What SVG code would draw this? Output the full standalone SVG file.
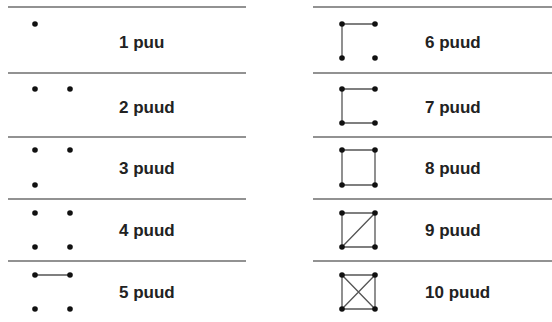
<svg xmlns="http://www.w3.org/2000/svg" width="552" height="322" viewBox="0 0 552 322">
<style>
.sep{stroke:#6e6e6e;stroke-width:1.5}
.e{stroke:#555;stroke-width:1.3;fill:none}
.d{fill:#111}
.t{font-family:"Liberation Sans",Arial,sans-serif;font-weight:bold;font-size:17px;fill:#222}
</style>
<rect width="552" height="322" fill="#fff"/>
<g id="separators">
<line class="sep" x1="8" y1="7" x2="246" y2="7"/>
<line class="sep" x1="8" y1="73" x2="246" y2="73"/>
<line class="sep" x1="8" y1="137" x2="246" y2="137"/>
<line class="sep" x1="8" y1="199" x2="246" y2="199"/>
<line class="sep" x1="8" y1="261" x2="246" y2="261"/>
<line class="sep" x1="313" y1="7" x2="552" y2="7"/>
<line class="sep" x1="313" y1="73" x2="552" y2="73"/>
<line class="sep" x1="313" y1="137" x2="552" y2="137"/>
<line class="sep" x1="313" y1="199" x2="552" y2="199"/>
<line class="sep" x1="313" y1="261" x2="552" y2="261"/>
</g>
<g id="connectors">
<line class="e" x1="35" y1="275" x2="70" y2="275"/>
<path class="e" d="M375,24 H342 V58"/>
<path class="e" d="M375,89 H342 V123 H375"/>
<path class="e" d="M342,150 H375 V185 H342 Z"/>
<path class="e" d="M342,213 H375 V247 H342 Z M342,247 L375,213"/>
<path class="e" d="M342,275 H375 V309 H342 Z M342,275 L375,309 M375,275 L342,309"/>
</g>
<g id="row1"><circle class="d" cx="35" cy="24" r="2.8"/><text class="t" x="119" y="48">1 puu</text></g>
<g id="row2"><circle class="d" cx="35" cy="89" r="2.8"/><circle class="d" cx="70" cy="89" r="2.8"/><text class="t" x="119" y="113">2 puud</text></g>
<g id="row3"><circle class="d" cx="35" cy="150" r="2.8"/><circle class="d" cx="70" cy="150" r="2.8"/><circle class="d" cx="35" cy="185" r="2.8"/><text class="t" x="119" y="174">3 puud</text></g>
<g id="row4"><circle class="d" cx="35" cy="213" r="2.8"/><circle class="d" cx="70" cy="213" r="2.8"/><circle class="d" cx="35" cy="247" r="2.8"/><circle class="d" cx="70" cy="247" r="2.8"/><text class="t" x="119" y="236">4 puud</text></g>
<g id="row5"><circle class="d" cx="35" cy="275" r="2.8"/><circle class="d" cx="70" cy="275" r="2.8"/><circle class="d" cx="35" cy="309" r="2.8"/><circle class="d" cx="70" cy="309" r="2.8"/><text class="t" x="119" y="298">5 puud</text></g>
<g id="row6"><circle class="d" cx="342" cy="24" r="2.8"/><circle class="d" cx="375" cy="24" r="2.8"/><circle class="d" cx="342" cy="58" r="2.8"/><circle class="d" cx="375" cy="58" r="2.8"/><text class="t" x="425" y="48">6 puud</text></g>
<g id="row7"><circle class="d" cx="342" cy="89" r="2.8"/><circle class="d" cx="375" cy="89" r="2.8"/><circle class="d" cx="342" cy="123" r="2.8"/><circle class="d" cx="375" cy="123" r="2.8"/><text class="t" x="425" y="113">7 puud</text></g>
<g id="row8"><circle class="d" cx="342" cy="150" r="2.8"/><circle class="d" cx="375" cy="150" r="2.8"/><circle class="d" cx="342" cy="185" r="2.8"/><circle class="d" cx="375" cy="185" r="2.8"/><text class="t" x="425" y="174">8 puud</text></g>
<g id="row9"><circle class="d" cx="342" cy="213" r="2.8"/><circle class="d" cx="375" cy="213" r="2.8"/><circle class="d" cx="342" cy="247" r="2.8"/><circle class="d" cx="375" cy="247" r="2.8"/><text class="t" x="425" y="236">9 puud</text></g>
<g id="row10"><circle class="d" cx="342" cy="275" r="2.8"/><circle class="d" cx="375" cy="275" r="2.8"/><circle class="d" cx="342" cy="309" r="2.8"/><circle class="d" cx="375" cy="309" r="2.8"/><text class="t" x="425" y="298">10 puud</text></g>
</svg>
